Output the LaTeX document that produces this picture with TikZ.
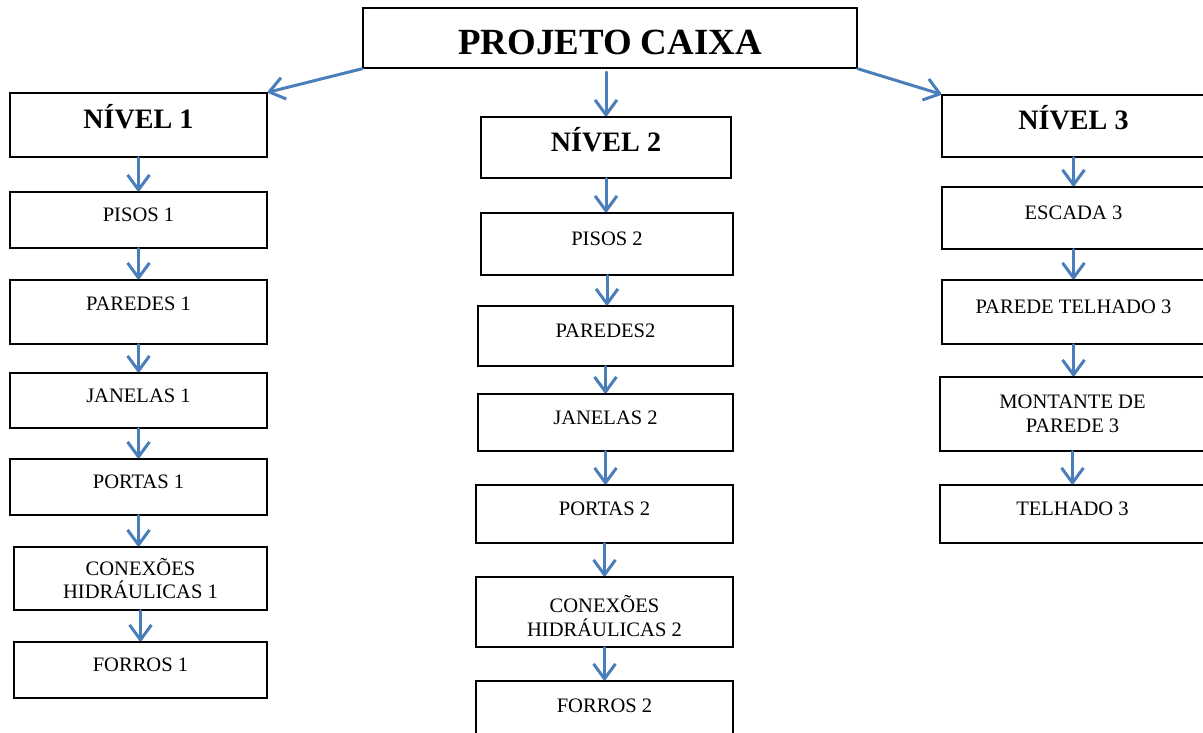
\documentclass[tikz,border=0pt]{standalone}
\usepackage{fontspec}
\setmainfont{Liberation Serif}
\usetikzlibrary{arrows.meta}
\definecolor{arrblue}{RGB}{74,126,187}

\begin{document}
\begin{tikzpicture}[x=0.02cm,y=-0.02cm,
  box/.style={draw,line width=0.8pt,inner sep=0pt,align=center,font=\fontsize{11.7}{13.5}\selectfont},
  lvl/.style={box,font=\fontsize{16}{19}\bfseries,text height=11pt,text depth=7pt},
  up/.style={text height=8pt,text depth=6pt},
  arr/.style={arrblue,line width=1.7pt,line cap=round,-{Straight Barb[length=8.5pt,width=12.5pt,line join=round]}}]
\useasboundingbox (0,0) rectangle (1203,733);
\clip (0,0) rectangle (1203,733);

\node[draw,line width=0.8pt,minimum width=9.88cm,minimum height=1.2cm,font=\fontsize{21}{25}\bfseries,text height=18.5pt,text depth=0pt] (proj) at (610,38) {PROJETO CAIXA};

% nivel 1
\node[lvl,minimum width=5.14cm,minimum height=1.28cm] (niv1) at (138.5,125) {NÍVEL 1};
\node[box,up,minimum width=5.14cm,minimum height=1.12cm] (pis1) at (138.5,220) {PISOS 1};
\node[box,minimum width=5.14cm,minimum height=1.28cm,text height=8pt,text depth=10pt] (par1) at (138.5,312) {PAREDES 1};
\node[box,up,minimum width=5.14cm,minimum height=1.10cm] (jan1) at (138.5,400.5) {JANELAS 1};
\node[box,up,minimum width=5.14cm,minimum height=1.12cm] (por1) at (138.5,487) {PORTAS 1};
\node[box,minimum width=5.06cm,minimum height=1.26cm] (con1) at (140.5,578.5) {CONEXÕES\\HIDRÁULICAS 1};
\node[box,up,minimum width=5.06cm,minimum height=1.12cm] (for1) at (140.5,670) {FORROS 1};

% nivel 2
\node[lvl,minimum width=5.0cm,minimum height=1.22cm] (niv2) at (606,147.5) {NÍVEL 2};
\node[box,up,minimum width=5.04cm,minimum height=1.24cm] (pis2) at (607,244) {PISOS 2};
\node[box,up,minimum width=5.10cm,minimum height=1.20cm] (par2) at (605.5,336) {PAREDES2};
\node[box,up,minimum width=5.10cm,minimum height=1.14cm] (jan2) at (605.5,422.5) {JANELAS 2};
\node[box,up,minimum width=5.14cm,minimum height=1.16cm] (por2) at (604.5,514) {PORTAS 2};
\node[box,minimum width=5.14cm,minimum height=1.40cm,text height=28pt] (con2) at (604.5,612) {CONEXÕES\\HIDRÁULICAS 2};
\node[box,up,minimum width=5.14cm,minimum height=1.20cm] (for2) at (604.5,711) {FORROS 2};

% nivel 3
\node[lvl,minimum width=5.26cm,minimum height=1.24cm] (niv3) at (1073.5,126) {NÍVEL 3};
\node[box,up,minimum width=5.26cm,minimum height=1.24cm] (esc3) at (1073.5,218) {ESCADA 3};
\node[box,up,minimum width=5.26cm,minimum height=1.28cm] (ptel3) at (1073.5,312) {PAREDE TELHADO 3};
\node[box,minimum width=5.30cm,minimum height=1.48cm] (mon3) at (1072.5,414) {MONTANTE DE\\PAREDE 3};
\node[box,up,minimum width=5.30cm,minimum height=1.16cm] (tel3) at (1072.5,514) {TELHADO 3};

\draw[arr] (proj.south west) -- (niv1.north east);
\draw[arr] ([yshift=-2pt]niv2.north |- proj.south) -- (niv2.north);
\draw[arr] (proj.south east) -- (niv3.north west);

\foreach \a/\b in {niv1/pis1,pis1/par1,par1/jan1,jan1/por1,por1/con1,con1/for1,
  niv2/pis2,pis2/par2,par2/jan2,jan2/por2,por2/con2,con2/for2,
  niv3/esc3,esc3/ptel3,ptel3/mon3,mon3/tel3}
  \draw[arr] (\a.south) -- (\a.south |- \b.north);
\end{tikzpicture}
\end{document}
